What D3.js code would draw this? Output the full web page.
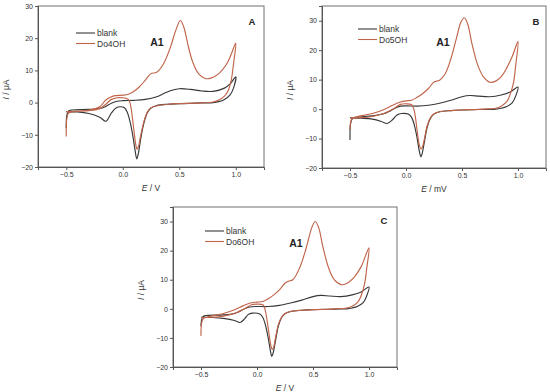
<!DOCTYPE html>
<html>
<head>
<meta charset="utf-8">
<script src="https://cdn.jsdelivr.net/npm/d3@7"></script>
<style>
  body { margin: 0; background: #fff; }
  svg { display: block; font-family: "Liberation Sans", Arial, sans-serif; }
</style>
</head>
<body>
<script>
// ---- data: [E, I] pairs, each one a full sweep ----
const blankA = [[-0.5,-8],[-0.495,-4],[-0.48,-2.6],[-0.45,-2.3],[-0.3,-2.1],[-0.2,-1.8],[-0.15,-1.2],[-0.1,-0.2],
  [-0.05,0.4],[0,0.6],[0.1,0.7],[0.2,1.0],[0.3,1.8],[0.35,2.6],[0.42,3.7],[0.5,4.3],[0.6,4.1],[0.7,3.6],[0.8,3.5],
  [0.9,4.5],[0.95,5.8],[1.0,8],[0.98,4.5],[0.95,2.4],[0.9,1.0],[0.85,0.3],[0.8,0],[0.7,-0.1],[0.5,-0.3],[0.4,-0.5],
  [0.3,-0.9],[0.25,-1.7],[0.22,-3],[0.19,-6],[0.16,-11],[0.137,-16],[0.124,-17.5],[0.11,-15],[0.09,-10.5],
  [0.065,-6],[0.04,-3],[0.015,-1.6],[-0.02,-1.3],[-0.06,-1.7],[-0.1,-3.2],[-0.15,-5.8],[-0.2,-4.6],[-0.3,-3.4],
  [-0.4,-2.9],[-0.5,-2.8]];
const dopA = [[-0.5,-10.5],[-0.495,-5],[-0.48,-3.3],[-0.45,-2.9],[-0.3,-2.3],[-0.2,-1.2],[-0.15,0.8],[-0.08,2.1],
  [0,2.3],[0.05,2.6],[0.1,3.5],[0.15,5],[0.2,7],[0.25,9],[0.3,9.4],[0.36,12],[0.42,17],[0.47,22.5],[0.51,25.5],
  [0.54,23.5],[0.58,17.5],[0.62,12.5],[0.67,9],[0.73,7.5],[0.78,7.6],[0.85,9],[0.92,12],[0.96,15],[1.0,18.5],
  [0.98,12],[0.96,7],[0.93,3.5],[0.9,2],[0.85,0.8],[0.8,0.2],[0.7,-0.1],[0.5,-0.3],[0.4,-0.5],[0.3,-1],[0.25,-1.6],
  [0.22,-2.8],[0.19,-5.5],[0.16,-10],[0.14,-13.5],[0.127,-14.5],[0.115,-13],[0.1,-9],[0.085,-4.5],[0.07,-1],
  [0.055,0.8],[0.03,1.3],[0,1.5],[-0.05,1.5],[-0.1,1.0],[-0.15,-0.5],[-0.2,-1.8],[-0.3,-2.5],[-0.4,-2.7],[-0.5,-2.8]];

const blankB = [[-0.5,-10.5],[-0.495,-5],[-0.48,-3.3],[-0.45,-2.8],[-0.3,-2.3],[-0.2,-1.6],[-0.15,-0.8],[-0.1,0.3],
  [-0.05,1.0],[0,1.1],[0.1,1.0],[0.2,1.3],[0.3,2.0],[0.4,3.0],[0.5,4.2],[0.57,4.6],[0.65,4.4],[0.75,4.2],[0.85,4.8],
  [0.93,5.8],[1.0,7.5],[0.98,4.5],[0.95,2.2],[0.9,0.9],[0.85,0.3],[0.8,0],[0.7,-0.1],[0.5,-0.3],[0.4,-0.5],
  [0.3,-0.9],[0.25,-1.7],[0.22,-3],[0.19,-6],[0.165,-11],[0.143,-15.3],[0.133,-16.2],[0.12,-14.5],[0.1,-10],
  [0.075,-5.5],[0.05,-2.8],[0.02,-1.7],[-0.04,-1.5],[-0.08,-2],[-0.12,-3.6],[-0.17,-4.9],[-0.22,-4.2],[-0.3,-3.4],
  [-0.4,-3.1],[-0.5,-3.0]];
const dopB = [[-0.5,-7],[-0.495,-4.5],[-0.48,-3.2],[-0.45,-2.7],[-0.3,-1.5],[-0.2,-0.2],[-0.12,1.3],[-0.05,2.4],
  [0,2.8],[0.05,3.0],[0.1,4],[0.15,5.3],[0.2,7],[0.25,9.2],[0.3,9.8],[0.35,12],[0.4,17],[0.45,24],[0.49,29.5],
  [0.52,31],[0.55,29],[0.59,22],[0.64,15],[0.69,11],[0.75,9.1],[0.8,9.5],[0.85,11],[0.9,14],[0.95,18],[1.0,23],
  [0.98,15],[0.96,9],[0.93,5],[0.9,2.5],[0.85,1],[0.8,0.3],[0.7,0],[0.5,-0.3],[0.4,-0.5],[0.3,-0.9],[0.25,-1.6],
  [0.22,-2.8],[0.19,-5.5],[0.165,-10],[0.145,-13],[0.132,-13.5],[0.118,-12],[0.1,-7.5],[0.085,-3],[0.07,0],
  [0.05,1.5],[0,1.8],[-0.05,1.6],[-0.1,0.4],[-0.2,-1.5],[-0.3,-2.5],[-0.4,-2.9],[-0.5,-3.0]];

const blankC = [[-0.5,-6],[-0.495,-3.8],[-0.48,-2.6],[-0.45,-2.3],[-0.3,-2.1],[-0.2,-1.6],[-0.15,-0.8],[-0.1,0.2],
  [-0.05,0.7],[0,0.8],[0.1,0.8],[0.2,1.2],[0.3,2.0],[0.4,3.0],[0.5,4.2],[0.57,4.6],[0.65,4.4],[0.75,4.2],[0.85,4.8],
  [0.93,5.8],[1.0,7.5],[0.98,4.5],[0.95,2.2],[0.9,0.9],[0.85,0.3],[0.8,0],[0.7,-0.1],[0.5,-0.3],[0.4,-0.5],
  [0.3,-0.9],[0.25,-1.7],[0.22,-3],[0.19,-6],[0.165,-11],[0.143,-15.3],[0.132,-16.3],[0.12,-14.5],[0.1,-10],
  [0.075,-5.5],[0.05,-2.8],[0.02,-1.7],[-0.04,-1.5],[-0.08,-2],[-0.11,-3.4],[-0.15,-4.7],[-0.2,-4.0],[-0.3,-3.3],
  [-0.4,-3.0],[-0.5,-2.9]];
const dopC = [[-0.5,-9.3],[-0.495,-5],[-0.48,-3.4],[-0.45,-2.9],[-0.3,-1.6],[-0.2,-0.3],[-0.12,1.1],[-0.05,2.1],
  [0,2.3],[0.05,2.5],[0.1,3.5],[0.15,4.8],[0.2,6.5],[0.25,8.8],[0.28,9.5],[0.32,10],[0.38,14],[0.44,21],[0.49,28],
  [0.52,30],[0.55,28],[0.59,21],[0.64,14],[0.69,10],[0.75,8.3],[0.8,8.7],[0.87,11],[0.93,14.5],[1.0,21],
  [0.98,14],[0.96,8.5],[0.93,4.5],[0.9,2.3],[0.85,0.9],[0.8,0.3],[0.7,0],[0.5,-0.3],[0.4,-0.5],[0.3,-0.9],[0.25,-1.6],
  [0.22,-2.8],[0.19,-5.5],[0.165,-10],[0.148,-13.3],[0.137,-14],[0.123,-12.5],[0.105,-8],[0.088,-3.5],[0.072,-0.3],
  [0.055,1.3],[0,1.6],[-0.05,1.4],[-0.1,0.3],[-0.2,-1.5],[-0.3,-2.5],[-0.4,-2.9],[-0.5,-3.0]];

const xTicks = [-0.5, 0.0, 0.5, 1.0];
const yTicks = [-20, -10, 0, 10, 20, 30];
const seriesNames = ["blank", "Do4OH", "Do5OH", "Do6OH"];

const BLACK = "#383838", RED = "#c0644a";

const svg = d3.select("body").append("svg").attr("width", 550).attr("height", 392);

const panels = [
  {letter: "A", left: 38, right: 264, top: 6, bottom: 167, yMax: 30,
   blank: blankA, dop: dopA, name: seriesNames[1], xTitle: "V",
   legend: [76, 33], a1: [157, 46], letterPos: [252, 25]},
  {letter: "B", left: 322, right: 546, top: 6, bottom: 168, yMax: 35,
   blank: blankB, dop: dopB, name: seriesNames[2], xTitle: "mV",
   legend: [358, 29], a1: [443, 46], letterPos: [536, 25]},
  {letter: "C", left: 173, right: 397, top: 207, bottom: 367, yMax: 35,
   blank: blankC, dop: dopC, name: seriesNames[3], xTitle: "V",
   legend: [205, 231], a1: [296, 247], letterPos: [384, 224]}
];

panels.forEach(p => {
  const x = d3.scaleLinear().domain([-0.75, 1.25]).range([p.left, p.right]);
  const y = d3.scaleLinear().domain([-20, p.yMax]).range([p.bottom, p.top]);
  const g = svg.append("g");

  // frame
  g.append("rect").attr("x", p.left).attr("y", p.top)
    .attr("width", p.right - p.left).attr("height", p.bottom - p.top)
    .attr("fill", "none").attr("stroke", "#707070").attr("stroke-width", 1);

  // axes
  const ax = g.append("g").attr("transform", `translate(0,${p.bottom})`)
    .call(d3.axisBottom(x).tickValues(xTicks).tickFormat(d3.format(".1f")).tickSizeOuter(0).tickSize(3).tickPadding(2));
  const ay = g.append("g").attr("transform", `translate(${p.left},0)`)
    .call(d3.axisLeft(y).tickValues(yTicks).tickFormat(d3.format("d")).tickSizeOuter(0).tickSize(3).tickPadding(2));
  [ax, ay].forEach(a => {
    a.select(".domain").attr("stroke", "#555");
    a.selectAll(".tick line").attr("stroke", "#555");
    a.selectAll(".tick text").attr("fill", "#333").style("font-size", "7px");
  });

  // curves
  const line = d3.line().x(d => x(d[0])).y(d => y(d[1])).curve(d3.curveCatmullRom.alpha(0.5));
  g.append("path").datum(p.blank).attr("d", line)
    .attr("fill", "none").attr("stroke", BLACK).attr("stroke-width", 1.15);
  g.append("path").datum(p.dop).attr("d", line)
    .attr("fill", "none").attr("stroke", RED).attr("stroke-width", 1.15);

  // axis titles
  const xt = g.append("text").attr("x", (p.left + p.right) / 2).attr("y", p.bottom + 24)
    .attr("text-anchor", "middle").style("font-size", "8.5px").attr("fill", "#333");
  xt.append("tspan").style("font-style", "italic").text("E");
  xt.append("tspan").text(" / " + p.xTitle);

  const yt = g.append("text")
    .attr("transform", `translate(${p.left - 29},${(p.top + p.bottom) / 2 + 3}) rotate(-90)`)
    .attr("text-anchor", "middle").style("font-size", "8.5px").attr("fill", "#333");
  yt.append("tspan").style("font-style", "italic").text("I");
  yt.append("tspan").text(" / μA");

  // legend
  [[seriesNames[0], BLACK], [p.name, RED]].forEach((s, i) => {
    const ly = p.legend[1] + i * 10.5;
    g.append("line").attr("x1", p.legend[0]).attr("x2", p.legend[0] + 19)
      .attr("y1", ly).attr("y2", ly).attr("stroke", s[1]).attr("stroke-width", 1.1);
    g.append("text").attr("x", p.legend[0] + 21).attr("y", ly + 3)
      .style("font-size", "8.5px").attr("fill", "#333").text(s[0]);
  });

  // annotations
  g.append("text").attr("x", p.a1[0]).attr("y", p.a1[1]).attr("text-anchor", "middle")
    .style("font-size", "10.5px").style("font-weight", "bold").attr("fill", "#222").text("A1");
  g.append("text").attr("x", p.letterPos[0]).attr("y", p.letterPos[1]).attr("text-anchor", "middle")
    .style("font-size", "9.5px").style("font-weight", "bold").attr("fill", "#222").text(p.letter);
});
</script>
</body>
</html>
